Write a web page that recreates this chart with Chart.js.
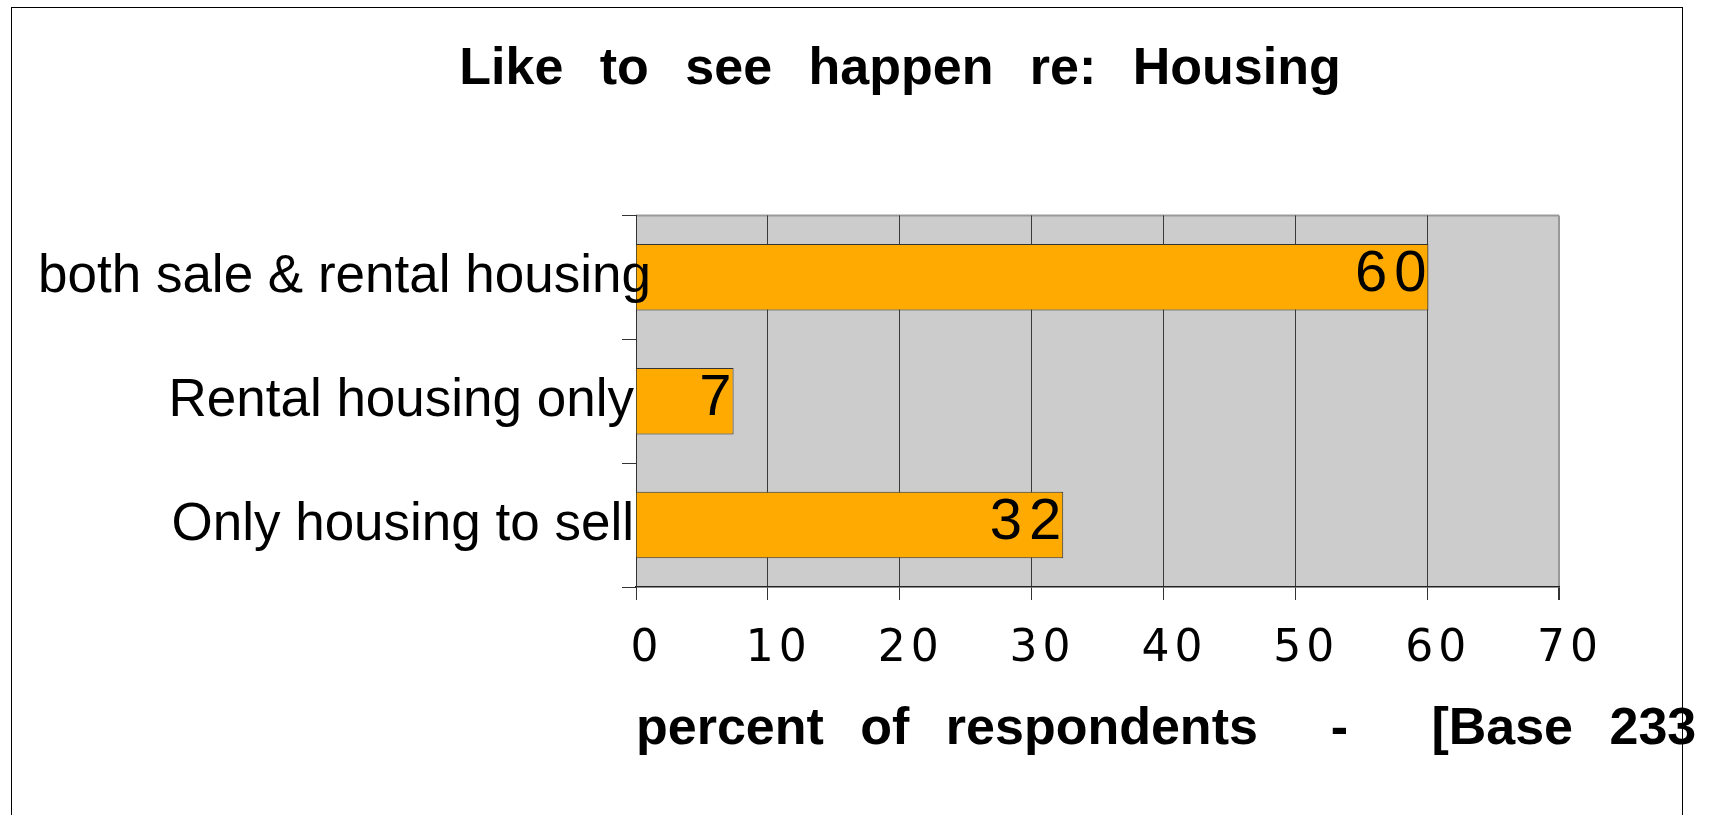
<!DOCTYPE html>
<html>
<head>
<meta charset="utf-8">
<title>Like to see happen re: Housing</title>
<script src="https://cdn.jsdelivr.net/npm/chart.js@4.4.1/dist/chart.umd.min.js"></script>
<style>
    html, body { margin: 0; padding: 0; background: #fff; overflow: hidden; }
    #wrap { position: relative; width: 1726px; height: 815px; }
    #frame {
        position: absolute; left: 11px; top: 7px; width: 1670px; height: 900px;
        border: 1.5px solid #000; pointer-events: none;
    }
</style>
</head>
<body>
<div id="wrap">
    <canvas id="housingChart"></canvas>
    <div id="frame"></div>
</div>
<script>
// Chart data
const categories = ['both sale & rental housing', 'Rental housing only', 'Only housing to sell'];
const percentValues = [60.1, 7.4, 32.4];
const xTicks = [0, 10, 20, 30, 40, 50, 60, 70];
const chartTitle = 'Like to see happen re: Housing';
const axisTitle = 'percent of respondents  -  \u2009[Base 233';

const xMax = xTicks[xTicks.length - 1];

// Grey plot area + top border; word spacing for the title
const plotBackground = {
    id: 'plotBackground',
    beforeDraw(chart) {
        const { ctx, chartArea: a } = chart;
        ctx.save();
        ctx.fillStyle = '#cccccc';
        ctx.fillRect(a.left, a.top, a.right - a.left, a.bottom - a.top);
        ctx.strokeStyle = '#999999';
        ctx.lineWidth = 2;
        ctx.beginPath();
        ctx.moveTo(a.left, a.top);
        ctx.lineTo(a.right, a.top);
        ctx.stroke();
        ctx.restore();
        ctx.letterSpacing = '0px';
        ctx.wordSpacing = '22px';
    },
    // x tick labels are drawn after the bars (ticks.z = 1), spaced out
    afterDatasetsDraw(chart) {
        chart.ctx.letterSpacing = '5px';
    }
};

// Category labels, value labels and the axis title
const textLabels = {
    id: 'textLabels',
    afterDraw(chart) {
        const { ctx, chartArea: a, scales: { y } } = chart;
        const meta = chart.getDatasetMeta(0);
        ctx.save();
        ctx.fillStyle = '#000';
        ctx.textBaseline = 'middle';
        ctx.letterSpacing = '0px';
        ctx.wordSpacing = '0px';

        // category labels: right aligned at the axis, but never past the left margin
        ctx.font = '53px "Liberation Sans", Arial, sans-serif';
        ctx.textAlign = 'left';
        categories.forEach((label, i) => {
            const w = ctx.measureText(label).width;
            const x = Math.max(38, a.left - 2 - w);
            ctx.fillText(label, x, y.getPixelForValue(i));
        });

        // values inside the bar ends
        ctx.font = '58px "Liberation Sans", Arial, sans-serif';
        ctx.letterSpacing = '7px';
        ctx.textAlign = 'right';
        meta.data.forEach((bar, i) => {
            ctx.fillText(String(Math.round(percentValues[i])), bar.x + 5, bar.y - 2);
        });

        // x axis title, starts at the axis and runs past the frame
        ctx.font = 'bold 52px "Liberation Sans", Arial, sans-serif';
        ctx.letterSpacing = '0px';
        ctx.wordSpacing = '22px';
        ctx.textAlign = 'left';
        ctx.fillText(axisTitle, a.left, a.bottom + 143);
        ctx.restore();
    }
};

new Chart(document.getElementById('housingChart'), {
    type: 'bar',
    data: {
        labels: categories,
        datasets: [{
            data: percentValues,
            backgroundColor: '#ffaa00',
            borderColor: '#333333',
            borderWidth: 1,
            categoryPercentage: 0.537,
            barPercentage: 1
        }]
    },
    options: {
        indexAxis: 'y',
        responsive: true,
        maintainAspectRatio: false,
        animation: false,
        layout: {
            padding: { left: 241, right: 167, top: 0, bottom: 0 }
        },
        plugins: {
            legend: { display: false },
            tooltip: { enabled: false },
            title: {
                display: true,
                text: chartTitle,
                color: '#000',
                font: { family: '"Liberation Sans", Arial, sans-serif', size: 52, weight: 'bold' },
                padding: { top: 38, bottom: 115 }
            }
        },
        scales: {
            x: {
                min: xTicks[0],
                max: xMax,
                ticks: {
                    stepSize: xTicks[1] - xTicks[0],
                    color: '#000',
                    font: { family: '"DejaVu Sans", sans-serif', size: 44 },
                    padding: 23,
                    labelOffset: 11,
                    z: 1
                },
                grid: {
                    color: ctx => (ctx.tick && ctx.tick.value === xMax ? '#999999' : '#3a3a3a'),
                    lineWidth: ctx => (ctx.tick && ctx.tick.value === xMax ? 2 : 1),
                    tickColor: '#333333',
                    tickLength: 13
                },
                border: { color: '#222222', width: 1.5 },
                afterFit(scale) { scale.height = 228; }
            },
            y: {
                grid: {
                    drawOnChartArea: false,
                    drawTicks: true,
                    tickLength: 14,
                    color: '#333333',
                    offset: true
                },
                border: { color: '#333333', width: 1 },
                ticks: { display: false },
                afterFit(scale) { scale.width = 395; }
            }
        }
    },
    plugins: [plotBackground, textLabels]
});
</script>
</body>
</html>
